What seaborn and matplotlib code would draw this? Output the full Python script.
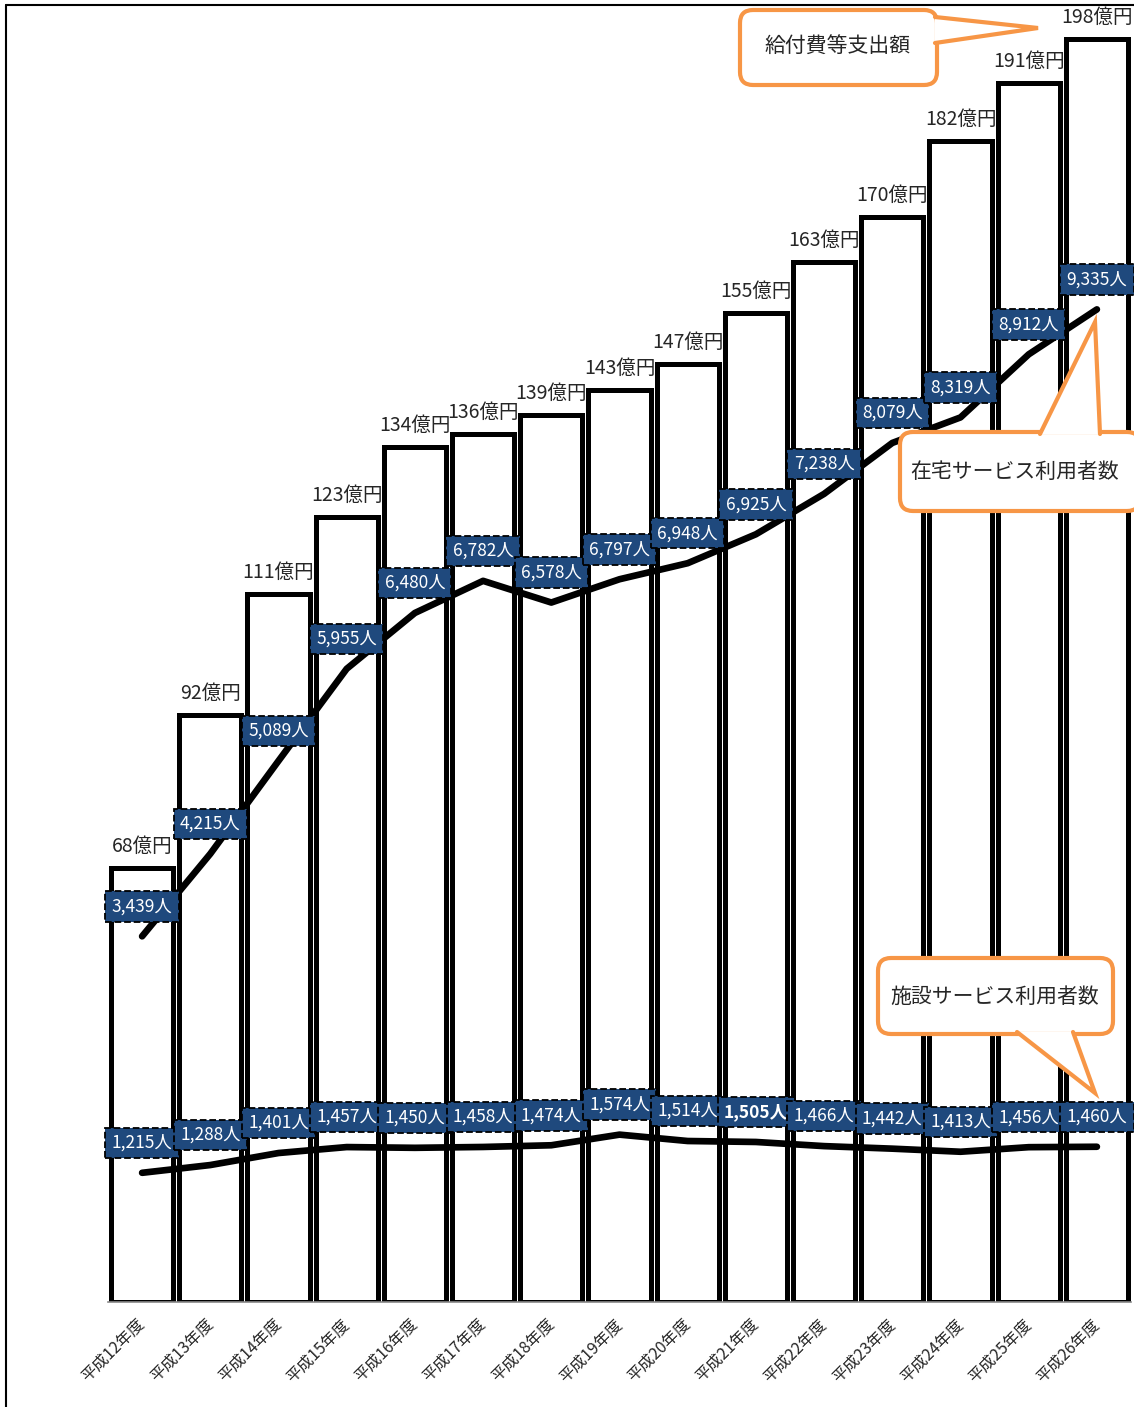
import matplotlib
matplotlib.use('Agg')
import matplotlib.pyplot as plt
import seaborn as sns
import pandas as pd
from matplotlib.patches import FancyBboxPatch, Polygon

years = ['平成12年度', '平成13年度', '平成14年度', '平成15年度', '平成16年度',
         '平成17年度', '平成18年度', '平成19年度', '平成20年度', '平成21年度',
         '平成22年度', '平成23年度', '平成24年度', '平成25年度', '平成26年度']
# 給付費等支出額 (億円)
expense = [68, 92, 111, 123, 134, 136, 139, 143, 147, 155, 163, 170, 182, 191, 198]
# 在宅サービス利用者数 (line as drawn / label text as printed)
home_users = [3439, 4215, 5089, 5955, 6480, 6782, 6578, 6797, 6948, 7220, 7600, 8079, 8319, 8912, 9335]
home_labels = ['3,439人', '4,215人', '5,089人', '5,955人', '6,480人', '6,782人', '6,578人', '6,797人',
               '6,948人', '6,925人', '7,238人', '8,079人', '8,319人', '8,912人', '9,335人']
# 施設サービス利用者数
facility_users = [1215, 1288, 1401, 1457, 1450, 1458, 1474, 1574, 1514, 1505, 1466, 1442, 1413, 1456, 1460]
facility_labels = ['1,215人', '1,288人', '1,401人', '1,457人', '1,450人', '1,458人', '1,474人', '1,574人',
                   '1,514人', '1,505人', '1,466人', '1,442人', '1,413人', '1,456人', '1,460人']

sns.set_style('white')
plt.rcParams['font.family'] = ['Noto Sans CJK JP', 'DejaVu Sans']

W, H = 1134, 1407
fig = plt.figure(figsize=(W / 100, H / 100), dpi=100)
ax = fig.add_axes([108 / W, 105 / H, 1023 / W, 1276 / H])

df = pd.DataFrame({'year': years, 'expense': expense})
sns.barplot(data=df, x='year', y='expense', ax=ax, color='white', edgecolor='black',
            linewidth=3.6, width=0.91, errorbar=None, saturation=1)
ax.set_ylim(0, 200)
ax.set_xlim(-0.5, 14.5)
ax.set_xlabel('')
ax.set_ylabel('')
ax.set_yticks([])
for s in ['left', 'right', 'top']:
    ax.spines[s].set_visible(False)
ax.spines['bottom'].set_color('#888888')
ax.spines['bottom'].set_linewidth(1.2)

# year labels at bar centres, boundary ticks as minor ticks
ax.set_xticks(range(len(years)))
ax.set_xticklabels(years, rotation=45, ha='right', va='center', rotation_mode='anchor', fontsize=11.5)
ax.tick_params(axis='x', which='major', length=0, pad=14)
ax.set_xticks([i - 0.5 for i in range(len(years) + 1)], minor=True)
ax.tick_params(axis='x', which='minor', length=7, color='#888888', width=1.2, direction='out')

for i, v in enumerate(expense):
    ax.annotate(f'{v}億円', (i, v), xytext=(0, 11), textcoords='offset pixels',
                ha='center', va='bottom', fontsize=14, annotation_clip=False)

ax2 = ax.twinx()
pos = list(range(len(years)))
sns.lineplot(x=pos, y=home_users, ax=ax2, color='black', linewidth=4.8, solid_capstyle='round')
sns.lineplot(x=pos, y=facility_users, ax=ax2, color='black', linewidth=4.8, solid_capstyle='round')
ax2.set_ylim(0, 12000)
ax2.set_xlim(-0.5, 14.5)
ax2.set_yticks([])
ax2.set_ylabel('')
for s in ['left', 'right', 'top', 'bottom']:
    ax2.spines[s].set_visible(False)

box = dict(boxstyle='square,pad=0.36', fc='#1F497D', ec='black', ls='--', lw=1.3)
for vals, labels in [(home_users, home_labels), (facility_users, facility_labels)]:
    for i, (v, t) in enumerate(zip(vals, labels)):
        ax2.annotate(t, (i, v), xytext=(0, 30), textcoords='offset pixels',
                     ha='center', va='center', fontsize=12.5, color='white',
                     fontweight='bold' if t == '1,505人' else 'normal',
                     bbox=box, annotation_clip=False, zorder=5)

# overlay in image pixel coordinates for frame and callouts
ov = fig.add_axes([0, 0, 1, 1], zorder=10)
ov.set_xlim(0, W)
ov.set_ylim(H, 0)
ov.axis('off')
ov.patch.set_alpha(0)
ov.plot([6, W], [5, 5], color='black', lw=1.5)
ov.plot([6, 6], [5, H], color='black', lw=1.5)

orange = '#F79646'


def callout(x0, y0, x1, y1, base_a, tip, base_b, text, tx, ty):
    ov.add_patch(FancyBboxPatch((x0, y0), x1 - x0, y1 - y0, boxstyle='round,pad=0,rounding_size=13',
                                fc='white', ec=orange, lw=3, clip_on=False))
    ov.add_patch(Polygon([base_a, tip, base_b], closed=True, fc='white', ec='none', clip_on=False))
    ov.plot([base_a[0], tip[0], base_b[0]], [base_a[1], tip[1], base_b[1]], color=orange, lw=3,
            solid_joinstyle='miter', clip_on=False)
    ov.text(tx, ty, text, ha='center', va='center', fontsize=15)


callout(740, 10, 937, 85, (935, 17), (1038, 28), (935, 43), '給付費等支出額', 838, 47)
callout(900, 432, 1140, 511, (1040, 434), (1095, 322), (1100, 434), '在宅サービス利用者数', 1015, 472)
callout(878, 958, 1113, 1034, (1017, 1032), (1095, 1093), (1073, 1032), '施設サービス利用者数', 995, 997)

fig.savefig('out.png', dpi=100)
